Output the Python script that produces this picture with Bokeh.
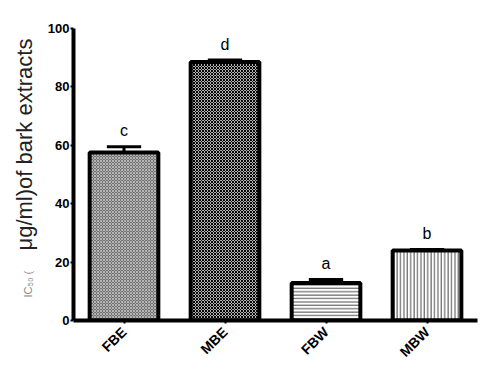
from math import pi
from bokeh.plotting import figure
from bokeh.models import ColumnDataSource, Range1d, FixedTicker, Title
from bokeh.core.properties import value
from bokeh.embed import file_html
from bokeh.resources import INLINE

categories = ["FBE", "MBE", "FBW", "MBW"]
means = [57.5, 88.5, 12.8, 24.0]
errors = [2.0, 0.7, 1.2, 0.3]
letters = ["c", "d", "a", "b"]
y_ticks = [0, 20, 40, 60, 80, 100]

xs = [i + 0.5 for i in range(len(categories))]
tops = [m + e for m, e in zip(means, errors)]
fills = ["#727272", "#ffffff", "#ffffff", "#ffffff"]
hatches = ["x", "x", "-", "|"]
hatch_colors = ["#b4b4b4", "#000000", "#4a4a4a", "#4a4a4a"]
hatch_scales = [3, 3, 3.4, 3.4]
hatch_weights = [1, 1.1, 1, 1]

p = figure(width=500, height=378, output_backend="svg", toolbar_location=None,
           x_range=Range1d(0, 4), y_range=Range1d(0, 100),
           min_border_left=73, min_border_right=23, min_border_top=28, min_border_bottom=58)
p.outline_line_color = None
p.grid.grid_line_color = None

src = ColumnDataSource(dict(x=xs, top=means, fill=fills, hatch=hatches, hc=hatch_colors,
                            hs=hatch_scales, hw=hatch_weights, etop=tops, lab=letters,
                            ly=[t + 2.5 for t in tops],
                            x0=[x - 0.17 for x in xs], x1=[x + 0.17 for x in xs]))

p.segment(x0="x", y0="top", x1="x", y1="etop", source=src, line_color="black", line_width=3)
p.segment(x0="x0", y0="etop", x1="x1", y1="etop", source=src, line_color="black", line_width=3)
p.vbar(x="x", top="top", bottom=0, width=0.68, source=src, fill_color="fill",
       hatch_pattern="hatch", hatch_color="hc", hatch_scale="hs", hatch_weight="hw",
       line_color="black", line_width=4)
p.text(x="x", y="ly", text="lab", source=src, text_align="center", text_baseline="bottom",
       text_font_size="16px", text_font=value("Liberation Sans"), text_color="black")

for ax in (p.xaxis[0], p.yaxis[0]):
    ax.axis_line_width = 4
    ax.axis_line_color = "black"
    ax.major_tick_line_width = 2
    ax.major_tick_line_color = "black"
    ax.minor_tick_line_color = None
    ax.major_label_text_font = "Liberation Sans"
    ax.major_label_text_font_style = "bold"
    ax.major_label_text_color = "black"

p.yaxis.major_label_text_font_size = "13px"
p.yaxis.ticker = FixedTicker(ticks=y_ticks)
p.yaxis.major_tick_out = 3
p.yaxis.major_tick_in = 0
p.yaxis.major_label_standoff = 1

p.xaxis.major_label_text_font_size = "14px"
p.xaxis.ticker = FixedTicker(ticks=xs)
p.xaxis.major_label_overrides = {x: c for x, c in zip(xs, categories)}
p.xaxis.major_tick_out = 3
p.xaxis.major_tick_in = 0
p.xaxis.major_label_orientation = pi / 4
p.xaxis.major_label_standoff = 6

# y title: main part and small grey "IC50 (" part sharing one column
p.add_layout(Title(text="μg/ml)of bark extracts", align="left", offset=70, standoff=15,
                   text_font="Liberation Sans", text_font_size="22px",
                   text_font_style="normal", text_color="#222222"), "left")
p.add_layout(Title(text="IC₅₀ (", align="left", offset=23, standoff=-62,
                   text_font="Liberation Sans", text_font_size="11px",
                   text_font_style="normal", text_color="#888888"), "left")

open("out.html", "w").write(file_html(p, INLINE))
